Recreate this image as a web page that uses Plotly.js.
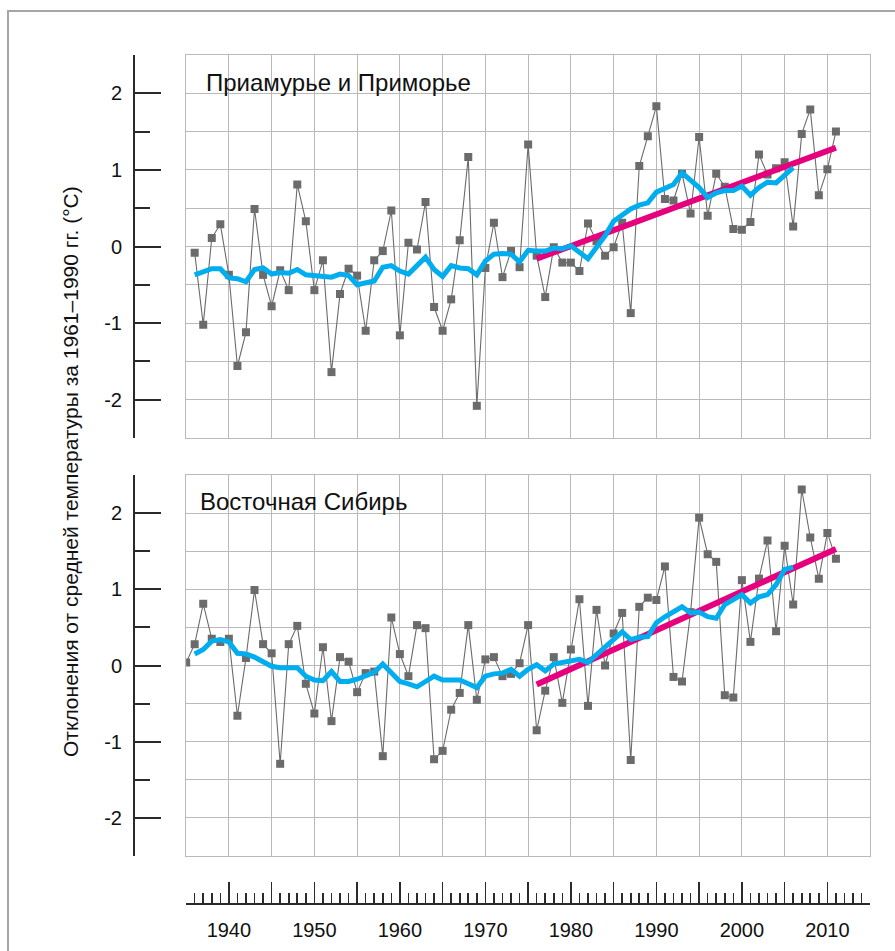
<!DOCTYPE html>
<html>
<head>
<meta charset="utf-8">
<script src="https://cdn.plot.ly/plotly-3.0.1.min.js"></script>
<style>
html,body{margin:0;padding:0;background:#fff;}
#chart{width:895px;height:951px;}
#chart path.xgrid, #chart path.ygrid { shape-rendering: crispEdges !important; }
</style>
</head>
<body>
<div id="chart"></div>
<script>
// ---------- DATA ----------
const panelTitles = ["Приамурье и Приморье", "Восточная Сибирь"];
const yAxisTitle = "Отклонения от средней температуры за 1961–1990 гг. (°C)";

// Panel 1: Приамурье и Приморье, annual anomalies 1936–2011
const amurYears = [1936,1937,1938,1939,1940,1941,1942,1943,1944,1945,1946,1947,1948,1949,1950,1951,1952,1953,1954,1955,1956,1957,1958,1959,1960,1961,1962,1963,1964,1965,1966,1967,1968,1969,1970,1971,1972,1973,1974,1975,1976,1977,1978,1979,1980,1981,1982,1983,1984,1985,1986,1987,1988,1989,1990,1991,1992,1993,1994,1995,1996,1997,1998,1999,2000,2001,2002,2003,2004,2005,2006,2007,2008,2009,2010,2011];
const amurValues = [-0.08,-1.02,0.11,0.29,-0.37,-1.56,-1.12,0.49,-0.37,-0.78,-0.31,-0.57,0.81,0.33,-0.57,-0.18,-1.64,-0.62,-0.29,-0.38,-1.10,-0.18,-0.06,0.47,-1.16,0.05,-0.04,0.58,-0.79,-1.10,-0.69,0.08,1.17,-2.08,-0.28,0.31,-0.40,-0.06,-0.27,1.33,-0.12,-0.66,-0.01,-0.21,-0.21,-0.32,0.30,0.07,-0.12,-0.01,0.31,-0.87,1.05,1.44,1.83,0.62,0.60,0.95,0.43,1.43,0.40,0.95,0.78,0.23,0.22,0.32,1.20,0.94,1.02,1.10,0.26,1.47,1.79,0.67,1.01,1.50];
// smoothed (running mean) 1936–2006
const amurSmoothYears = [1936,1937,1938,1939,1940,1941,1942,1943,1944,1945,1946,1947,1948,1949,1950,1951,1952,1953,1954,1955,1956,1957,1958,1959,1960,1961,1962,1963,1964,1965,1966,1967,1968,1969,1970,1971,1972,1973,1974,1975,1976,1977,1978,1979,1980,1981,1982,1983,1984,1985,1986,1987,1988,1989,1990,1991,1992,1993,1994,1995,1996,1997,1998,1999,2000,2001,2002,2003,2004,2005,2006];
const amurSmooth = [-0.37,-0.33,-0.29,-0.29,-0.41,-0.42,-0.46,-0.30,-0.28,-0.36,-0.34,-0.35,-0.30,-0.37,-0.38,-0.40,-0.40,-0.36,-0.38,-0.50,-0.47,-0.45,-0.27,-0.25,-0.32,-0.36,-0.25,-0.14,-0.30,-0.39,-0.25,-0.28,-0.29,-0.37,-0.19,-0.10,-0.09,-0.10,-0.20,-0.05,-0.06,-0.06,-0.02,-0.03,0.01,-0.08,-0.16,-0.01,0.14,0.33,0.41,0.49,0.54,0.57,0.71,0.76,0.81,0.96,0.87,0.77,0.64,0.70,0.73,0.73,0.79,0.67,0.77,0.84,0.83,0.92,1.03];
const amurTrendYears = [1976, 2011];
const amurTrend = [-0.16, 1.29];

// Panel 2: Восточная Сибирь, annual anomalies 1935–2011
const sibYears = [1935,1936,1937,1938,1939,1940,1941,1942,1943,1944,1945,1946,1947,1948,1949,1950,1951,1952,1953,1954,1955,1956,1957,1958,1959,1960,1961,1962,1963,1964,1965,1966,1967,1968,1969,1970,1971,1972,1973,1974,1975,1976,1977,1978,1979,1980,1981,1982,1983,1984,1985,1986,1987,1988,1989,1990,1991,1992,1993,1994,1995,1996,1997,1998,1999,2000,2001,2002,2003,2004,2005,2006,2007,2008,2009,2010,2011];
const sibValues = [0.04,0.28,0.81,0.35,0.31,0.35,-0.66,0.10,0.99,0.28,0.16,-1.29,0.28,0.52,-0.24,-0.63,0.24,-0.73,0.11,0.05,-0.35,-0.10,-0.08,-1.19,0.63,0.15,-0.14,0.53,0.49,-1.23,-1.12,-0.58,-0.36,0.53,-0.45,0.08,0.11,-0.14,-0.11,0.03,0.53,-0.85,-0.33,0.11,-0.49,0.21,0.87,-0.53,0.73,0.00,0.42,0.69,-1.24,0.77,0.89,0.86,1.30,-0.15,-0.21,0.70,1.94,1.46,1.36,-0.39,-0.42,1.12,0.31,1.14,1.64,0.45,1.57,0.80,2.31,1.68,1.14,1.74,1.40];
const sibSmoothYears = [1936,1937,1938,1939,1940,1941,1942,1943,1944,1945,1946,1947,1948,1949,1950,1951,1952,1953,1954,1955,1956,1957,1958,1959,1960,1961,1962,1963,1964,1965,1966,1967,1968,1969,1970,1971,1972,1973,1974,1975,1976,1977,1978,1979,1980,1981,1982,1983,1984,1985,1986,1987,1988,1989,1990,1991,1992,1993,1994,1995,1996,1997,1998,1999,2000,2001,2002,2003,2004,2005,2006];
const sibSmooth = [0.15,0.21,0.32,0.34,0.31,0.16,0.15,0.11,0.05,-0.01,-0.03,-0.03,-0.03,-0.14,-0.19,-0.20,-0.08,-0.21,-0.21,-0.18,-0.13,-0.09,0.02,-0.10,-0.21,-0.24,-0.28,-0.21,-0.14,-0.19,-0.19,-0.19,-0.24,-0.29,-0.14,-0.11,-0.10,-0.05,-0.14,-0.05,0.01,-0.07,0.02,0.04,0.07,0.08,0.04,0.14,0.23,0.34,0.44,0.34,0.37,0.38,0.56,0.64,0.71,0.77,0.69,0.70,0.64,0.62,0.80,0.86,0.93,0.82,0.90,0.93,1.06,1.26,1.29];
const sibTrendYears = [1976, 2011];
const sibTrend = [-0.25, 1.53];

// axis tick labels
const yTickVals = [-2, -1, 0, 1, 2];
const yTickText = ["-2", "-1", "0", "1", "2"];

// ---------- STYLE / LAYOUT ----------
const W = 895, H = 951;
const FONT = "'Liberation Sans', Arial, Helvetica, sans-serif";
const GRAY = "#6b6b6b", BLUE = "#00aeef", MAGENTA = "#e6007e";
const GRID = "#bababa", AXC = "#2a2a2a";
const px = v => v / W;
const py = v => 1 - v / H;

// left edge offset by 1/8 px so no 5-year gridline lands on an exact pixel boundary
const xDomain = [px(186.125), px(870.125)];
const topDomain = [py(438), py(55)];
const botDomain = [py(856), py(475)];

function seriesTraces(xa, ya, yrs, vals, sYrs, sVals, tYrs, tVals) {
  return [
    {x: yrs, y: vals, xaxis: xa, yaxis: ya, type: 'scatter', mode: 'lines+markers',
     line: {color: GRAY, width: 1.1}, marker: {symbol: 'square', size: 8, color: GRAY},
     showlegend: false, hoverinfo: 'x+y'},
    {x: tYrs, y: tVals, xaxis: xa, yaxis: ya, type: 'scatter', mode: 'lines',
     line: {color: MAGENTA, width: 6}, showlegend: false},
    {x: sYrs, y: sVals, xaxis: xa, yaxis: ya, type: 'scatter', mode: 'lines',
     line: {color: BLUE, width: 5}, showlegend: false}
  ];
}

const data = [
  ...seriesTraces('x', 'y', amurYears, amurValues, amurSmoothYears, amurSmooth, amurTrendYears, amurTrend),
  ...seriesTraces('x2', 'y2', sibYears, sibValues, sibSmoothYears, sibSmooth, sibTrendYears, sibTrend),
  // carriers for the free-standing scale axes
  {x: [null], y: [null], xaxis: 'x', yaxis: 'y3', showlegend: false, hoverinfo: 'skip'},
  {x: [null], y: [null], xaxis: 'x2', yaxis: 'y4', showlegend: false, hoverinfo: 'skip'},
  {x: [null], y: [null], xaxis: 'x3', yaxis: 'y2', showlegend: false, hoverinfo: 'skip'}
];

const gridX = (anchor) => ({
  domain: xDomain, range: [1935, 2015], anchor: anchor,
  tickmode: 'linear', tick0: 1935, dtick: 5,
  showgrid: true, gridcolor: GRID, gridwidth: 1,
  showticklabels: false, ticks: '', zeroline: false,
  showline: true, mirror: true, linecolor: GRID, linewidth: 1
});
const gridY = (domain, anchor) => ({
  domain: domain, range: [-2.5, 2.5], anchor: anchor,
  tickmode: 'linear', tick0: 0, dtick: 0.5,
  showgrid: true, gridcolor: GRID, gridwidth: 1,
  showticklabels: false, ticks: '', zeroline: false,
  showline: true, mirror: true, linecolor: GRID, linewidth: 1
});
const scaleY = (over) => ({
  overlaying: over, anchor: 'free', position: px(134), side: 'left',
  range: [-2.5, 2.5], showgrid: false, zeroline: false,
  showline: true, linecolor: AXC, linewidth: 2,
  tickmode: 'array', tickvals: yTickVals, ticktext: yTickText,
  ticks: 'inside', ticklen: 26, tickwidth: 2, tickcolor: AXC,
  minor: {tickmode: 'linear', tick0: 0, dtick: 0.5, ticks: 'inside', ticklen: 15, tickwidth: 2, tickcolor: AXC, showgrid: false},
  ticklabelstandoff: 7,
  tickfont: {family: FONT, size: 20, color: '#111'}
});

const layout = {
  width: W, height: H,
  margin: {l: 0, r: 0, t: 0, b: 0},
  paper_bgcolor: '#fff', plot_bgcolor: '#fff',
  showlegend: false,
  font: {family: FONT, color: '#111'},
  xaxis: gridX('y'),
  xaxis2: Object.assign(gridX('y2'), {matches: 'x'}),
  yaxis: gridY(topDomain, 'x'),
  yaxis2: gridY(botDomain, 'x2'),
  yaxis3: scaleY('y'),
  yaxis4: scaleY('y2'),
  xaxis3: {
    overlaying: 'x2', anchor: 'free', position: py(902.7), side: 'bottom',
    range: [1935, 2015], showgrid: false, zeroline: false,
    showline: true, linecolor: AXC, linewidth: 1.8,
    tickmode: 'linear', tick0: 1940, dtick: 5, ticklabelstep: 2,
    ticks: 'inside', ticklen: 21, tickwidth: 1.6, tickcolor: AXC,
    minor: {tickmode: 'linear', tick0: 1935, dtick: 1, ticks: 'inside', ticklen: 10, tickwidth: 1.6, tickcolor: AXC, showgrid: false},
    ticklabelstandoff: 8,
    tickfont: {family: FONT, size: 20, color: '#111'}
  },
  annotations: [
    {text: panelTitles[0], xref: 'paper', yref: 'paper', x: px(204), y: py(82),
     xanchor: 'left', yanchor: 'middle', showarrow: false, font: {family: FONT, size: 24, color: '#111'}},
    {text: panelTitles[1], xref: 'paper', yref: 'paper', x: px(198), y: py(501),
     xanchor: 'left', yanchor: 'middle', showarrow: false, font: {family: FONT, size: 24, color: '#111'}},
    {text: yAxisTitle, xref: 'paper', yref: 'paper', x: px(70), y: py(472),
     xanchor: 'center', yanchor: 'middle', textangle: -90, showarrow: false,
     font: {family: FONT, size: 21, color: '#111'}}
  ],
  shapes: [
    {type: 'rect', xref: 'paper', yref: 'paper', x0: px(8), x1: 1.02, y0: -0.02, y1: py(11),
     line: {color: '#a6a6a6', width: 2}, fillcolor: 'rgba(0,0,0,0)', layer: 'below'}
  ]
};

Plotly.newPlot('chart', data, layout, {staticPlot: true, displayModeBar: false});
</script>
</body>
</html>
